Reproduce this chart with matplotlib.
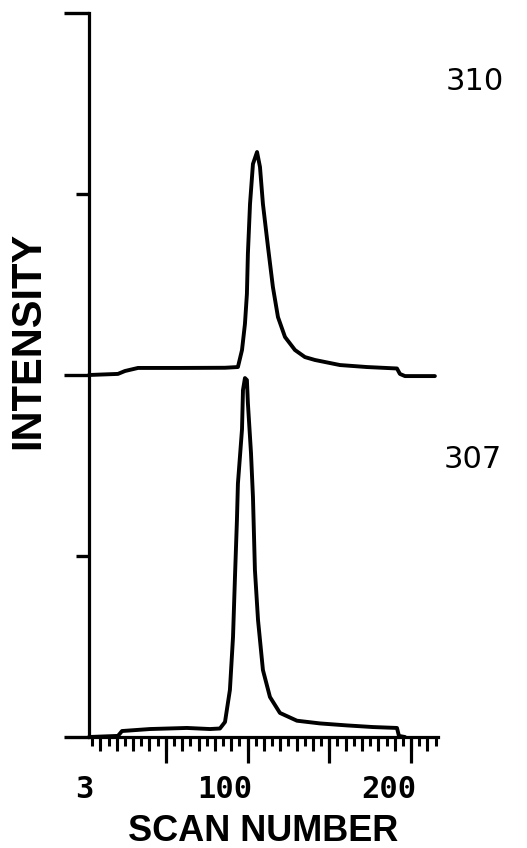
#!/usr/bin/env python3
"""
plot.py — two stacked elution traces (scan 310 over scan 307), intensity vs scan number.
"""

import matplotlib
matplotlib.use("Agg")
import matplotlib.pyplot as plt
from matplotlib.ticker import FixedLocator, NullFormatter


# ---------------------------------------------------------------------------
# Data
# ---------------------------------------------------------------------------

trace_names = ["310", "307"]
trace_offsets = [2.0, 0.0]          # baseline of each trace, in y divisions

scan_310 = [3, 20.7, 25, 33, 58.7, 86.2, 94.1, 96.6, 98.4, 99.6, 100.2, 101.5,
            103.3, 105.8, 107.6, 109.4, 112.5, 115.5, 118.6, 122.9, 129.0,
            135.1, 141.2, 156.5, 173.0, 191.4, 193.2, 196.3, 214.6]
int_310 = [0.0, 0.006, 0.022, 0.039, 0.039, 0.04, 0.044, 0.138, 0.282, 0.448,
           0.669, 0.945, 1.166, 1.232, 1.149, 0.945, 0.707, 0.486, 0.320, 0.210,
           0.138, 0.099, 0.083, 0.055, 0.044, 0.036, 0.006, -0.006, -0.006]

scan_307 = [3, 20.7, 23.2, 40.3, 62.9, 77.0, 83.1, 86.2, 89.2, 91.1, 92.3, 93.5,
            94.1, 96.6, 97.2, 98.4, 99.6, 100.2, 102.1, 103.3, 104.5, 106.4,
            109.4, 113.7, 119.8, 130.2, 144.3, 160.8, 176.7, 191.4, 192.6, 196.3]
int_307 = [0.0, 0.006, 0.033, 0.044, 0.05, 0.044, 0.047, 0.083, 0.260, 0.552,
           0.884, 1.199, 1.400, 1.700, 1.917, 1.983, 1.972, 1.845, 1.569, 1.326,
           0.923, 0.646, 0.370, 0.221, 0.133, 0.09, 0.075, 0.064, 0.055, 0.05,
           0.006, 0.0]

x_tick_labels = ["3", "100", "200"]
x_tick_label_pos = [3, 100, 200]
x_long_ticks = [50, 100, 150, 200]
x_mid_ticks = [10 * k for k in range(1, 22)]
x_short_ticks = [5 * k for k in range(1, 44)]
y_long_ticks = [0, 2, 4]
y_short_ticks = [1, 3]

x_label = "SCAN NUMBER"
y_label = "INTENSITY"


# ---------------------------------------------------------------------------
# Figure
# ---------------------------------------------------------------------------

INK = "black"
LW = 2.3

fig = plt.figure(figsize=(5.27, 8.48), dpi=100)
ax = fig.add_axes([89 / 527, 111 / 848, 349 / 527, 724 / 848])
ax.set_xlim(3, 216.5)
ax.set_ylim(0, 4)
ax.patch.set_visible(False)

for scans, vals, off in [(scan_310, int_310, trace_offsets[0]),
                         (scan_307, int_307, trace_offsets[1])]:
    ax.plot(scans, [v + off for v in vals], color=INK, lw=2.8,
            solid_joinstyle="round", solid_capstyle="round", clip_on=False)

# spines
for side in ("top", "right"):
    ax.spines[side].set_visible(False)
for side in ("left", "bottom"):
    ax.spines[side].set_linewidth(LW)
    ax.spines[side].set_color(INK)

# x ticks: long every 50, short every 5, plus a medium level every 10
ax.xaxis.set_major_locator(FixedLocator(x_long_ticks))
ax.xaxis.set_minor_locator(FixedLocator(x_short_ticks))
ax.xaxis.set_major_formatter(NullFormatter())
ax.tick_params(axis="x", which="major", direction="out", length=19, width=2.3, color=INK)
ax.tick_params(axis="x", which="minor", direction="out", length=6.5, width=2.2, color=INK)

sec = ax.secondary_xaxis("bottom")
sec.set_xticks(x_mid_ticks)
sec.xaxis.set_major_formatter(NullFormatter())
sec.tick_params(axis="x", direction="out", length=10, width=2.2, color=INK)
sec.spines["bottom"].set_visible(False)

# y ticks
ax.yaxis.set_major_locator(FixedLocator(y_long_ticks))
ax.yaxis.set_minor_locator(FixedLocator(y_short_ticks))
ax.yaxis.set_major_formatter(NullFormatter())
ax.tick_params(axis="y", which="major", direction="out", length=18, width=2.4, color=INK)
ax.tick_params(axis="y", which="minor", direction="out", length=9.5, width=2.4, color=INK)

# x tick labels, set a little right of their ticks like the plotter output
for lab, pos in zip(x_tick_labels, x_tick_label_pos):
    ax.text(pos + 3, -0.073 * 4, lab, ha="right", va="center",
            fontsize=22, family="DejaVu Sans Mono", weight="bold", color=INK)

# trace labels
fig.text(475 / 527, (848 - 90) / 848, trace_names[0], ha="center", va="baseline",
         fontsize=22, family="DejaVu Sans", color=INK)
fig.text(473 / 527, (848 - 468) / 848, trace_names[1], ha="center", va="baseline",
         fontsize=22, family="DejaVu Sans", color=INK)

# axis titles
fig.text(263 / 527, 7 / 848, x_label, ha="center", va="baseline",
         fontsize=26, family="Liberation Sans", weight="bold", color=INK)
fig.text(28 / 527, (848 - 340) / 848, y_label, ha="center", va="center",
         rotation=90, fontsize=30, family="Liberation Sans", weight="bold", color=INK)

fig.savefig("out.png", dpi=100, facecolor="white")
